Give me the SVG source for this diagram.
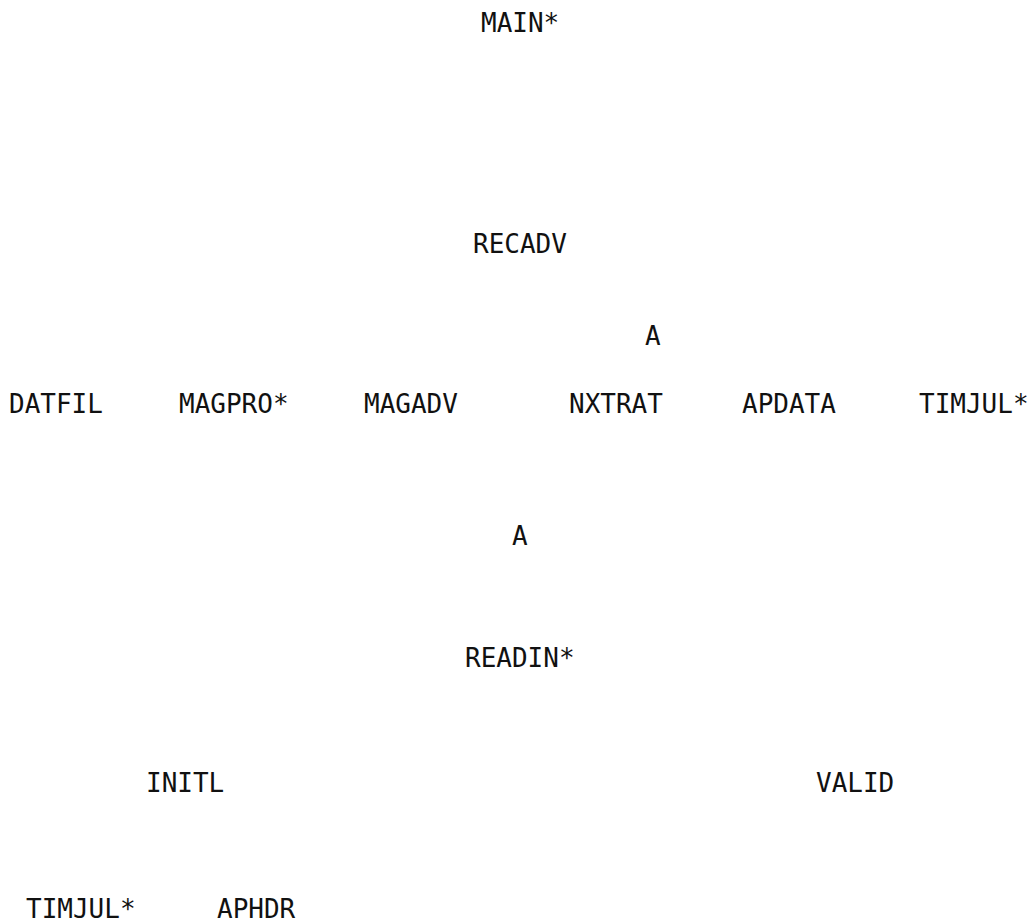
<svg xmlns="http://www.w3.org/2000/svg" width="1035" height="923" viewBox="0 0 1035 923">
<style>
text{font-family:"DejaVu Sans Mono","Liberation Mono",monospace;font-size:26px;fill:#111;}
</style>
<rect width="1035" height="923" fill="#fff"/>
<g id="connectors"></g>
<g id="n-main"><text x="481" y="32">MAIN*</text></g>
<g id="n-a1"><text x="645" y="345">A</text></g>
<g id="n-recadv"><text x="473" y="253">RECADV</text></g>
<g id="n-datfil"><text x="9" y="413">DATFIL</text></g>
<g id="n-magpro"><text x="179" y="413">MAGPRO*</text></g>
<g id="n-magadv"><text x="364" y="413">MAGADV</text></g>
<g id="n-nxtrat"><text x="569" y="413">NXTRAT</text></g>
<g id="n-apdata"><text x="742" y="413">APDATA</text></g>
<g id="n-timjul1"><text x="919" y="413">TIMJUL*</text></g>
<g id="n-a2"><text x="512" y="545">A</text></g>
<g id="n-readin"><text x="465" y="667">READIN*</text></g>
<g id="n-initl"><text x="146" y="792">INITL</text></g>
<g id="n-valid"><text x="816" y="792">VALID</text></g>
<g id="n-timjul2"><text x="26" y="918">TIMJUL*</text></g>
<g id="n-aphdr"><text x="217" y="918">APHDR</text></g>
</svg>
